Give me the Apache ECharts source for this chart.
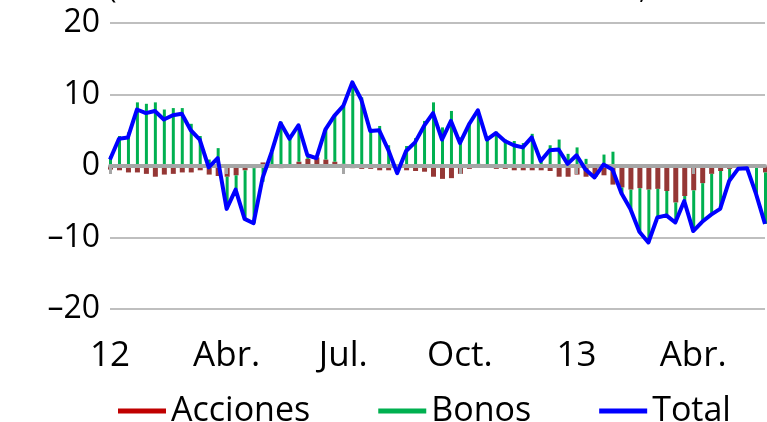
<!DOCTYPE html>
<html>
<head>
<meta charset="utf-8">
<script src="https://cdn.jsdelivr.net/npm/echarts@6/dist/echarts.min.js"></script>
<style>
html, body { margin: 0; padding: 0; background: #fff; }
#chart { width: 767px; height: 422px; }
</style>
</head>
<body>
<div id="chart"></div>
<script>
// weekly flows, Jan 2012 - May 2013
const tickIndex = [0, 13, 26, 39, 52, 65];
const tickLabels = ['12', 'Abr.', 'Jul.', 'Oct.', '13', 'Abr.'];

const acciones = [
    -0.5, -0.6, -0.9, -0.9, -1.1, -1.5, -1.2, -1.1, -0.9, -0.9,
    -0.6, -1.2, -1.4, -1.5, -1.3, -0.6, -0.3, 0.5, 0.0, -0.3,
    0.0, 0.6, 1.0, 1.2, 0.9, 0.6, 0.3, -0.3, -0.4, -0.4,
    -0.6, -0.6, -0.7, -0.6, -0.7, -0.8, -1.5, -1.8, -1.7, -1.1,
    -0.4, 0.3, 0.0, -0.4, -0.4, -0.6, -0.6, -0.6, -0.6, -0.7,
    -1.5, -1.5, -1.2, -1.5, -1.5, -1.3, -2.6, -3.0, -3.3, -3.1,
    -3.3, -3.2, -3.5, -5.1, -4.2, -3.4, -2.4, -1.1, -0.7, -0.4,
    -0.2, -0.2, -0.2, -0.9
]
const bonos = [
    1.4, 4.2, 4.7, 8.9, 8.7, 8.9, 7.9, 8.1, 8.1, 5.9,
    4.2, 0.9, 2.5, -4.5, -2.0, -6.8, -7.7, -2.2, 1.9, 6.2,
    3.8, 5.1, 0.5, 0.0, 4.3, 6.4, 8.0, 11.8, 9.6, 5.2,
    5.6, 2.9, -0.3, 2.8, 3.9, 6.3, 8.9, 5.4, 7.7, 4.0,
    6.1, 7.5, 3.8, 4.8, 3.7, 3.5, 3.2, 4.5, 1.2, 2.9,
    3.7, 1.7, 2.6, 1.0, -0.1, 1.6, 2.0, -0.8, -2.7, -6.1,
    -7.4, -4.0, -3.4, -2.8, -0.7, -5.7, -5.4, -5.7, -5.3, -1.7,
    -0.2, -0.1, -3.7, -7.2
]
const total = [
    0.9, 3.8, 4.0, 7.9, 7.4, 7.7, 6.5, 7.1, 7.3, 5.0,
    3.7, -0.2, 1.1, -6.0, -3.3, -7.4, -8.0, -1.7, 1.9, 6.0,
    3.8, 5.7, 1.5, 1.1, 5.1, 7.0, 8.4, 11.7, 9.3, 4.9,
    5.0, 2.3, -1.0, 2.1, 3.3, 5.6, 7.4, 3.7, 6.3, 3.2,
    5.8, 7.8, 3.7, 4.6, 3.5, 2.9, 2.6, 4.0, 0.7, 2.2,
    2.3, 0.3, 1.5, -0.5, -1.6, 0.2, -0.5, -3.8, -6.0, -9.2,
    -10.7, -7.2, -6.9, -7.9, -4.9, -9.1, -7.8, -6.8, -6.0, -2.1,
    -0.4, -0.3, -3.9, -8.1
]

const categories = acciones.map((v, i) => {
    let k = tickIndex.indexOf(i)
    return k >= 0 ? tickLabels[k] : ''
})
// green bars sit on top of the red ones when both have the same sign
const baseBonos = acciones.map((a, i) => (a * bonos[i] > 0 ? a : 0))
const showTick = (i) => tickIndex.includes(i)

let chart = echarts.init(document.getElementById('chart'))
let font = 'Open Sans'

let option = {
    animation: false,
    textStyle: { fontFamily: font },
    grid: { left: 110, right: 2, top: 23, bottom: 113 },
    graphic: [{
        type: 'text',
        left: 108,
        top: -25,
        style: {
            text: '(Miles de millones de dólares de EE.UU.; media móvil de 4 semanas)',
            font: '29px "Open Sans"',
            fill: '#000'
        }
    }],
    legend: {
        left: 113,
        top: 389,
        itemWidth: 48,
        itemHeight: 5,
        itemGap: 68,
        icon: 'rect',
        textStyle: { fontSize: 34, color: '#000', fontFamily: font },
        data: [
            { name: 'Acciones', itemStyle: { color: '#C00000' } },
            { name: 'Bonos', itemStyle: { color: '#00B050' } },
            { name: 'Total', itemStyle: { color: '#0000FF' } }
        ]
    },
    xAxis: [{
        type: 'category',
        data: categories,
        boundaryGap: false,
        position: 'top',
        z: 3,
        axisLine: { onZero: true, lineStyle: { color: '#A6A6A6', width: 4 } },
        axisTick: { show: true, inside: true, length: 8, interval: showTick, lineStyle: { color: '#A6A6A6', width: 3 } },
        axisLabel: { show: false },
        splitLine: { show: false }
    }, {
        type: 'category',
        data: categories,
        boundaryGap: false,
        position: 'bottom',
        axisLine: { show: false, onZero: false },
        axisTick: { show: false },
        axisLabel: { interval: showTick, fontSize: 35, color: '#000', margin: 30 },
        splitLine: { show: false }
    }],
    yAxis: {
        type: 'value',
        min: -20,
        max: 20,
        interval: 10,
        axisLine: { show: false },
        axisTick: { show: false },
        axisLabel: {
            fontSize: 32,
            color: '#000',
            margin: 10,
            formatter: v => String(v).replace('-', '\u2013')
        },
        splitLine: { lineStyle: { color: '#BFBFBF', width: 2 } }
    },
    series: [{
        name: 'Acciones',
        type: 'bar',
        stack: 'a',
        barWidth: 5,
        barGap: '-80%',
        itemStyle: { color: '#953735' },
        data: acciones
    }, {
        name: 'base',
        type: 'bar',
        stack: 'b',
        barWidth: 3,
        barGap: '-80%',
        itemStyle: { color: 'rgba(0,0,0,0)' },
        data: baseBonos
    }, {
        name: 'Bonos',
        type: 'bar',
        stack: 'b',
        barWidth: 3,
        barGap: '-80%',
        itemStyle: { color: '#00B050' },
        data: bonos
    }, {
        name: 'Total',
        type: 'line',
        z: 5,
        symbol: 'none',
        lineStyle: { color: '#0000FF', width: 4, join: 'round' },
        itemStyle: { color: '#0000FF' },
        data: total
    }]
}
chart.setOption(option)
</script>
</body>
</html>
